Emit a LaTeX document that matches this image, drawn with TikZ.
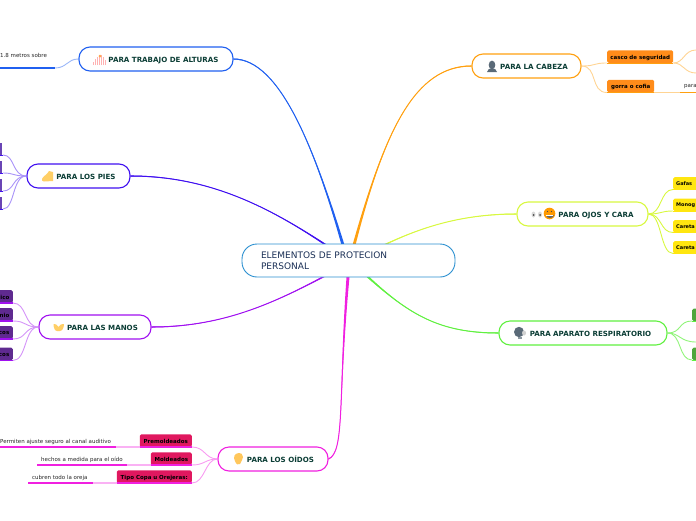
\documentclass[tikz,border=0pt]{standalone}
\usepackage{fontspec}
\setmainfont{DejaVu Sans}
\definecolor{cCenter}{HTML}{2A8FD0}
\definecolor{cBlue}{HTML}{2060F0}
\definecolor{cIndigo}{HTML}{4010F0}
\definecolor{cPurple}{HTML}{A010F0}
\definecolor{cMag}{HTML}{F020E0}
\definecolor{cOrange}{HTML}{FFA010}
\definecolor{cYellow}{HTML}{D8F840}
\definecolor{cGreen}{HTML}{60F040}
\definecolor{cTitle}{HTML}{0B3D35}
\definecolor{cNavy}{HTML}{1A2F55}
\definecolor{boxPurple}{HTML}{5F2A90}
\definecolor{boxIndigo}{HTML}{6A45B5}
\definecolor{boxRed}{HTML}{E0185F}
\definecolor{boxOrange}{HTML}{FF8C1A}
\definecolor{boxYellow}{HTML}{FFE610}
\definecolor{boxGreen}{HTML}{4FA63C}
\definecolor{iconGrey}{HTML}{5A6A78}
\definecolor{iconYel}{HTML}{FFCF66}
\tikzset{
  main/.style={draw=#1,line width=1.1pt,fill=white,rounded corners=11pt,minimum height=24pt,inner sep=0pt,
    font=\fontsize{7.1}{8}\selectfont\bfseries,text=cTitle,text height=7pt,text depth=0pt},
  sub/.style={fill=#1,rounded corners=1.5pt,minimum height=12.5pt,inner sep=0pt,
    font=\fontsize{5.5}{6}\selectfont\bfseries,text=black,text height=5.6pt,text depth=0pt},
  frag/.style={inner sep=0pt,font=\fontsize{5.5}{6}\selectfont\bfseries,text=black},
  fragsmall/.style={inner sep=0pt,font=\fontsize{5}{6}\selectfont\bfseries,text=black},
  leaf/.style={font=\fontsize{5.5}{6}\selectfont,text=black!85,inner sep=0pt,yshift=-.7pt},
  thin/.style={draw=#1,line width=.9pt},
  thick/.style={draw=#1,line width=1.6pt},
}
\newcommand{\taper}[5]{%
  \draw[#1,line width=1pt] (#2) .. controls (#3) and (#4) .. (#5);%
  \fill[#1] ([yshift=-.55pt]#2) .. controls (#3) and (#4) .. ([xshift=-1.5pt]#5) -- ([xshift=1.5pt]#5) .. controls (#4) and (#3) .. ([yshift=.55pt]#2) -- cycle;}
\begin{document}
\begin{tikzpicture}[x=1pt,y=-1pt]
\useasboundingbox (0,0) rectangle (696,520);
\clip (0,0) rectangle (696,520);
\coordinate (cBl) at (343,245);
\coordinate (cIn) at (326,245);
\coordinate (cOr) at (354,245);
\coordinate (cYe) at (384,245);
\coordinate (cPu) at (323,277);
\coordinate (cMa) at (348,277);
\coordinate (cGr) at (368,277);
\node[main=cBlue,minimum width=154pt] (alt) at (156,59) {\hspace*{15pt}PARA TRABAJO DE ALTURAS};
\node[main=cIndigo,minimum width=103pt] (pie) at (78.5,176) {\hspace*{15pt}PARA LOS PIES};
\node[main=cPurple,minimum width=112pt] (man) at (95,327) {\hspace*{15pt}PARA LAS MANOS};
\node[main=cMag,minimum width=110pt] (oid) at (273,459) {\hspace*{15pt}PARA LOS OÍDOS};
\node[main=cOrange,minimum width=109pt] (cab) at (526.5,66) {\hspace*{15pt}PARA LA CABEZA};
\node[main=cYellow,minimum width=131pt] (ojo) at (582.5,214) {\hspace*{27pt}PARA OJOS Y CARA};
\node[main=cGreen,minimum width=168pt] (res) at (583,333) {\hspace*{15pt}PARA APARATO RESPIRATORIO};
\taper{cBlue}{alt.east}{280,59}{315,150}{cBl}
\taper{cIndigo}{pie.east}{210,176}{270,208}{cIn}
\taper{cOrange}{cab.west}{415,66}{385,130}{cOr}
\taper{cYellow}{ojo.west}{460,214}{420,228}{cYe}
\taper{cPurple}{man.east}{220,327}{270,305}{cPu}
\taper{cMag}{oid.east}{345,452}{338,400}{cMa}
\taper{cGreen}{res.west}{440,333}{410,315}{cGr}
\node[draw=cCenter,line width=.9pt,fill=white,rounded corners=15pt,minimum width=213pt,minimum height=33pt,inner sep=0pt,
  text width=175pt,align=left,font=\fontsize{9}{11}\selectfont,text=cNavy] (center) at (348.5,260.5) {ELEMENTOS DE PROTECION\\PERSONAL};
% --- altura
\coordinate (altEnd) at (55,68);
\coordinate (altStart) at (0,68);
\draw[thin=cBlue!45] (alt.west) .. controls (67,59) and (67,68) .. (altEnd);
\draw[thick=cBlue] (altStart) -- (altEnd);
\node[leaf,anchor=west] (altT) at (0,55) {1.8 metros sobre};
% --- pies
\foreach \n/\y in {p1/143,p2/161,p3/179,p4/197}{
  \fill[boxIndigo] (0,\y) rectangle (2,\y+12);
  \coordinate (\n) at (3,\y+12);
  \draw[thick=cIndigo,line width=1pt] (0,\y+12) -- (\n);
  \draw[thin=cIndigo!45] (pie.west) .. controls (12,176) and (15,\y+12) .. (\n);
}
% --- manos
\foreach \n/\t/\y in {m1/ico/290,m2/nio/308,m3/cos/326,m4/cos/347.5}{
  \node[sub=boxPurple,anchor=north east,minimum width=20pt] (\n) at (13,\y) {};
  \node[frag,anchor=east] (\n t) at (9.5,\y+7) {\t};
  \draw[thick=cPurple] (0,\y+13) -- (13,\y+13);
  \draw[thin=cPurple!45] (man.west) .. controls (24,327) and (27,\y+13) .. (13,\y+13);
}
% --- oidos
\node[sub=boxRed,minimum width=52pt,anchor=south east] (o1) at (192,447) {Premoldeados};
\node[sub=boxRed,minimum width=41pt,anchor=south east] (o2) at (192,465) {Moldeados};
\node[sub=boxRed,minimum width=75pt,anchor=south east] (o3) at (192,483) {Tipo Copa u Orejeras:};
\draw[thin=cMag!35,line width=1.3pt] (116,447) -- (o1.south west);
\draw[thin=cMag!35,line width=1.3pt] (127,465) -- (o2.south west);
\draw[thin=cMag!35,line width=1.3pt] (93,483) -- (o3.south west);
\draw[thick=cMag] (0,447) -- (116,447);
\draw[thick=cMag] (37,465) -- (127,465);
\draw[thick=cMag] (28,483) -- (93,483);
\draw[thick=cMag] (o1.south west) -- (o1.south east);
\draw[thick=cMag] (o2.south west) -- (o2.south east);
\draw[thick=cMag] (o3.south west) -- (o3.south east);
\draw[thin=cMag!45] (oid.west) .. controls (205,459) and (205,447) .. (o1.south east);
\draw[thin=cMag!45] (oid.west) .. controls (205,459) and (205,465) .. (o2.south east);
\draw[thin=cMag!45] (oid.west) .. controls (205,459) and (205,483) .. (o3.south east);
\node[leaf,anchor=west] (o1t) at (0,441) {Permiten ajuste seguro al canal auditivo};
\node[leaf,anchor=west] (o2t) at (41,459) {hechos a medida para el oído};
\node[leaf,anchor=west] (o3t) at (32,477) {cubren todo la oreja};
% --- cabeza
\node[sub=boxOrange,minimum width=66pt,anchor=south west] (c1) at (607,63) {casco de seguridad};
\node[sub=boxOrange,minimum width=47pt,anchor=south west] (c2) at (607,92.5) {gorra o cofia};
\draw[thin=cOrange!45] (cab.east) .. controls (597,66) and (592,63) .. (c1.south west);
\draw[thin=cOrange!45] (cab.east) .. controls (598,66) and (590,92.5) .. (c2.south west);
\draw[thin=cOrange,line width=1pt] (c1.south west) -- (c1.south east);
\draw[thin=cOrange,line width=1pt] (c2.south west) -- (c2.south east);
\coordinate (c1a) at (696,50);
\coordinate (c1b) at (696,73);
\coordinate (c2e) at (680,92.5);
\coordinate (c2f) at (696,92.5);
\draw[thin=cOrange!45] (c1.south east) .. controls (684,63) and (684,50) .. (c1a);
\draw[thin=cOrange!45] (c1.south east) .. controls (684,63) and (684,73) .. (c1b);
\draw[thin=cOrange!45] (c2.south east) -- (c2e);
\draw[thick=cOrange] (c2e) -- (c2f);
\node[leaf,anchor=west] (c2t) at (684,86) {para};
% --- ojos
\foreach \n/\t/\y in {y1/Gafas/177,y2/Monog/198.5,y3/Careta/220,y4/Careta/241}{
  \node[sub=boxYellow,anchor=north west,minimum width=30pt] (\n) at (673,\y) {};
  \node[fragsmall,anchor=west] (\n t) at (676,\y+7) {\t};
  \draw[thin=cYellow] (ojo.east) .. controls (662,214) and (660,\y+12.5) .. (673,\y+12.5);
  \draw[thin=boxYellow,line width=1pt] (673,\y+12.5) -- (696,\y+12.5);
}
% --- respiratorio
\node[sub=boxGreen,anchor=north west,minimum width=10pt] (r1) at (692,308.5) {};
\node[sub=boxGreen,anchor=north west,minimum width=10pt] (r3) at (692,347.5) {};
\coordinate (r2) at (696,342);
\draw[thin=cGreen!70] (res.east) .. controls (682,333) and (678,321) .. (692,321);
\draw[thin=cGreen!70] (res.east) .. controls (680,333) and (680,342) .. (r2);
\draw[thin=cGreen!70] (res.east) .. controls (682,333) and (678,360) .. (692,360);
\draw[thin=cGreen] (692,321) -- (696,321);
\draw[thin=cGreen] (692,360) -- (696,360);
% --- icons
\foreach \x/\h in {93.5/3,95.5/6,97.5/8,99.5/10,101.5/10,103.5/8,105/5}{\draw[line width=1pt,draw=red!30] (\x,65) -- (\x,65-\h);}
\fill[orange!70] (100,56) circle (1.5);
\fill[iconYel] (42,179) .. controls (43,176) and (47,175) .. (49,171) -- (53,172) -- (53,181) -- (44,181.5) .. controls (42,181.5) and (41.5,180) .. (42,179) -- cycle;
\fill[iconYel] (53.5,324) .. controls (55,323) and (57,325) .. (58.5,327) .. controls (60,325) and (62,323) .. (64,324) .. controls (64,328) and (62,331) .. (60,331) -- (57,331) .. controls (55,331) and (53.5,328) .. (53.5,324) -- cycle;
\fill[iconYel!90!orange] (239,453) .. controls (234,453) and (233,458) .. (235,461) .. controls (236,464) and (238,466) .. (240,464) .. controls (241,461) and (243,460) .. (243,457) .. controls (243,454) and (241,453) .. (239,453) -- cycle;
\fill[iconGrey] (492,65) ellipse (3.3 and 4.4);
\fill[iconGrey] (487,72) .. controls (487,69) and (490,68.5) .. (492,68.5) .. controls (494,68.5) and (497,69) .. (497,72) -- cycle;
\fill[gray!30] (533.5,214.5) ellipse (2 and 3);
\fill[gray!30] (540,214.5) ellipse (2 and 3);
\fill[black!70] (533.5,215) circle (1);
\fill[black!70] (540,215) circle (1);
\fill[orange!80!yellow] (549.5,213.5) circle (5.8);
\fill[black!60] (545.5,214.5) -- (553.5,214.5) .. controls (553.5,219) and (545.5,219) .. (545.5,214.5) -- cycle;
\fill[white] (546.2,214.7) rectangle (552.8,215.9);
\fill[black!70] (547.5,211.5) circle (.7);
\fill[black!70] (551.5,211.5) circle (.7);
\fill[iconGrey] (519,332) ellipse (5 and 5.2);
\fill[iconGrey!70] (518,337) rectangle (522,339);
\fill[gray!35] (524,333) ellipse (2 and 2.5);
\end{tikzpicture}
\end{document}
